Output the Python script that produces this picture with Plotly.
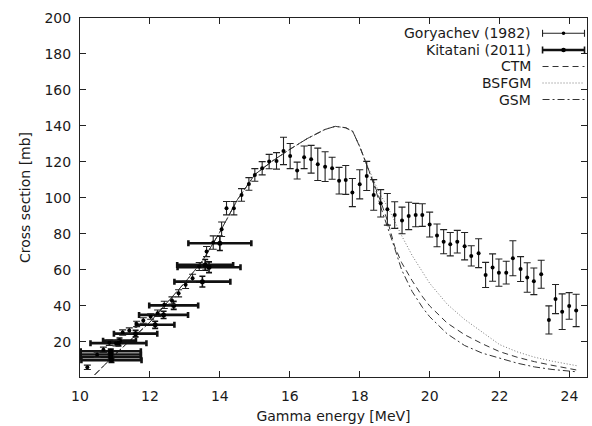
import plotly.graph_objects as go

# ---------------- data ----------------
# Goryachev (1982): energy [MeV], cross section [mb], y-error [mb]
gor_E = [10.21, 10.49, 10.67, 10.84, 11.03, 11.22, 11.41, 11.62, 11.81, 12.02,
         12.22, 12.41, 12.63, 12.82, 13.02, 13.22, 13.41, 13.62, 13.81, 14.05,
         14.19, 14.40, 14.62, 14.83, 15.00, 15.21, 15.41, 15.62, 15.82, 16.01,
         16.21, 16.41, 16.61, 16.80, 17.01, 17.21, 17.41, 17.60, 17.79, 18.00,
         18.20, 18.40, 18.60, 18.79, 19.00, 19.21, 19.40, 19.60, 19.79, 20.00,
         20.21, 20.40, 20.59, 20.79, 21.00, 21.19, 21.40, 21.60, 21.80, 21.98,
         22.19, 22.38, 22.60, 22.79, 22.98, 23.19, 23.41, 23.60, 23.79, 23.99,
         24.19]
gor_S = [5.9, 12.8, 15.6, 19.6, 19.3, 25.2, 26.3, 30.0, 31.9, 34.1,
         35.9, 40.6, 43.0, 47.0, 51.7, 55.4, 61.9, 70.2, 75.2, 82.6,
         94.3, 94.3, 101.7, 107.8, 112.8, 116.5, 120.2, 120.6, 126.1, 123.3,
         115.2, 122.6, 121.5, 118.7, 117.4, 116.5, 109.6, 110.0, 103.0, 107.6,
         112.2, 101.7, 97.0, 93.7, 90.5, 87.5, 90.0, 90.5, 90.5, 85.2,
         79.2, 75.7, 74.3, 75.7, 73.2, 67.8, 69.3, 57.2, 61.3, 58.5,
         58.5, 66.5, 60.5, 55.8, 53.7, 57.6, 32.2, 43.8, 36.8, 40.0,
         37.5]
gor_dS = [1.2, 1.5, 1.5, 1.5, 1.5, 1.5, 1.5, 1.5, 1.5, 1.5,
          1.8, 2.0, 2.0, 2.0, 2.0, 2.2, 2.2, 2.8, 3.7, 4.0,
          3.7, 3.7, 3.5, 3.5, 3.5, 3.7, 4.0, 4.6, 7.6, 7.0,
          4.7, 6.3, 7.7, 9.0, 8.3, 6.1, 7.4, 8.0, 7.8, 8.1,
          8.1, 8.5, 7.6, 8.8, 7.4, 7.4, 7.6, 6.5, 6.3, 6.9,
          6.3, 6.7, 6.5, 6.3, 7.6, 5.6, 8.0, 7.0, 7.6, 7.6,
          6.3, 9.7, 6.9, 8.2, 7.4, 7.8, 7.8, 8.1, 9.9, 7.4,
          9.0]

# Kitatani (2011): energy, cross section, x-error, y-error
kit_E = [10.88, 10.88, 10.88, 10.90, 11.10, 11.13, 11.59, 12.15, 12.39, 12.68,
         13.50, 13.58, 13.69, 14.00]
kit_S = [14.8, 13.0, 11.5, 9.8, 19.3, 20.7, 24.6, 29.5, 35.0, 40.3,
         53.5, 62.8, 61.5, 74.8]
kit_dE = [0.86, 0.86, 0.86, 0.86, 0.80, 0.47, 0.62, 0.55, 0.70, 0.70,
          0.80, 0.80, 0.90, 0.90]
kit_dS = [1.2, 1.2, 1.2, 1.2, 1.5, 1.5, 1.8, 2.0, 2.0, 2.2,
          3.0, 3.0, 3.0, 4.0]

# model curves (common part below ~18.4 MeV)
mod_E = [10.42, 11.0, 11.5, 12.0, 12.5, 13.0, 13.5, 14.0, 14.5, 15.0,
         15.5, 16.0, 16.5, 17.0, 17.3, 17.6, 17.8, 18.0, 18.15, 18.3,
         18.45, 18.6, 18.8, 19.0, 19.2, 19.5, 19.8, 20.0, 20.5, 21.0,
         21.5, 22.0, 22.5, 23.0, 23.5, 24.2]
ctm_S = [1.7, 13.0, 22.0, 31.0, 42.0, 53.0, 65.0, 81.0, 99.0, 113.0,
         120.5, 127.0, 133.0, 138.0, 139.8, 139.0, 137.0, 128.5, 121.0, 113.5,
         106.0, 98.0, 87.0, 73.0, 64.0, 54.0, 45.0, 40.0, 30.5, 24.0,
         19.0, 14.6, 11.5, 9.0, 7.0, 4.4]
bsfgm_S = [1.7, 13.0, 22.0, 31.0, 42.0, 53.0, 65.0, 81.0, 99.0, 113.0,
           120.5, 127.0, 133.0, 138.0, 139.8, 139.0, 137.0, 128.5, 121.0, 114.0,
           107.5, 101.5, 95.0, 87.0, 79.0, 68.0, 58.5, 52.6, 41.0, 32.5,
           25.5, 18.5, 14.5, 11.5, 9.3, 6.8]
gsm_S = [1.7, 13.0, 22.0, 31.0, 42.0, 53.0, 65.0, 81.0, 99.0, 113.0,
         120.5, 127.0, 133.0, 138.0, 139.8, 139.0, 137.0, 128.5, 121.0, 113.0,
         105.0, 95.0, 84.0, 72.0, 60.0, 48.0, 39.0, 34.0, 24.5, 18.0,
         13.8, 10.9, 8.2, 6.1, 4.7, 3.4]

x_ticks = [10, 12, 14, 16, 18, 20, 22, 24]
y_ticks = [20, 40, 60, 80, 100, 120, 140, 160, 180, 200]

legend_labels = ["Goryachev (1982)", "Kitatani (2011)", "CTM", "BSFGM", "GSM"]

# ---------------- figure ----------------
W, H = 592, 426
ML, MR, MT, MB = 80, 4.5, 18, 49
FONT = "DejaVu Sans"
FS = 14
INK = "#1a1a1a"

fig = go.Figure()

fig.add_trace(go.Scatter(x=mod_E, y=ctm_S, mode="lines", name="CTM",
                         line=dict(color="#333333", width=1, dash="6px,4px"),
                         showlegend=False, hoverinfo="skip"))
fig.add_trace(go.Scatter(x=mod_E, y=bsfgm_S, mode="lines", name="BSFGM",
                         line=dict(color="#777777", width=1, dash="1px,2px"),
                         showlegend=False, hoverinfo="skip"))
fig.add_trace(go.Scatter(x=mod_E, y=gsm_S, mode="lines", name="GSM",
                         line=dict(color="#333333", width=1, dash="7px,3px,2px,3px"),
                         showlegend=False, hoverinfo="skip"))

fig.add_trace(go.Scatter(x=kit_E, y=kit_S, mode="markers", name="Kitatani (2011)",
                         marker=dict(color="black", size=5),
                         error_x=dict(type="data", array=kit_dE, visible=True,
                                      color="#111111", thickness=2.6, width=3),
                         error_y=dict(type="data", array=kit_dS, visible=True,
                                      color="#111111", thickness=1.6, width=3),
                         showlegend=False))

fig.add_trace(go.Scatter(x=gor_E, y=gor_S, mode="markers", name="Goryachev (1982)",
                         marker=dict(color="black", size=4),
                         error_y=dict(type="data", array=gor_dS, visible=True,
                                      color="#222222", thickness=1.1, width=3.5),
                         showlegend=False))

# ---------------- manual legend (gnuplot style: text left, sample right) ----------------
pw = W - ML - MR
ph = H - MT - MB


def px2paper(xp, yp):
    return (xp - ML) / pw, 1 - (yp - MT) / ph


rows_y = [33.3, 50.0, 66.5, 83.0, 99.5]
text_right = 533
s0, s1 = 543, 585
shapes = []
annotations = []
for lab, yy in zip(legend_labels, rows_y):
    tx, ty = px2paper(text_right, yy)
    annotations.append(dict(x=tx, y=ty, xref="paper", yref="paper", text=lab,
                            showarrow=False, xanchor="right", yanchor="middle",
                            font=dict(family=FONT, size=FS, color=INK)))


def seg(x0, y0, x1, y1, **line):
    a = px2paper(x0, y0)
    b = px2paper(x1, y1)
    shapes.append(dict(type="line", xref="paper", yref="paper",
                       x0=a[0], y0=a[1], x1=b[0], y1=b[1], line=line))


# Goryachev sample
y = rows_y[0]
seg(s0, y, s1, y, color="#222222", width=1.1)
seg(s0, y - 3.5, s0, y + 3.5, color="#222222", width=1.1)
seg(s1, y - 3.5, s1, y + 3.5, color="#222222", width=1.1)
# Kitatani sample
y = rows_y[1]
seg(s0, y, s1, y, color="#111111", width=2.6)
seg(s0, y - 3.5, s0, y + 3.5, color="#111111", width=1.6)
seg(s1, y - 3.5, s1, y + 3.5, color="#111111", width=1.6)
# line samples
seg(s0, rows_y[2], s1, rows_y[2], color="#333333", width=1, dash="6px,4px")
seg(s0, rows_y[3], s1, rows_y[3], color="#777777", width=1, dash="1px,2px")
seg(s0, rows_y[4], s1, rows_y[4], color="#333333", width=1, dash="7px,3px,2px,3px")

for yy, sz in ((rows_y[0], 3.6), (rows_y[1], 4.6)):
    cx, cy = px2paper((s0 + s1) / 2, yy)
    r_x = sz / 2 / pw
    r_y = sz / 2 / ph
    shapes.append(dict(type="circle", xref="paper", yref="paper",
                       x0=cx - r_x, x1=cx + r_x, y0=cy - r_y, y1=cy + r_y,
                       fillcolor="black", line=dict(width=0)))

axis_common = dict(showline=True, linecolor="#222222", linewidth=1, mirror="ticks",
                   ticks="inside", ticklen=6, tickwidth=1, tickcolor="#222222",
                   showgrid=False, zeroline=False,
                   tickfont=dict(family=FONT, size=FS, color=INK))

fig.update_layout(
    width=W, height=H,
    margin=dict(l=ML, r=MR, t=MT, b=MB, pad=0, autoexpand=False),
    paper_bgcolor="white", plot_bgcolor="white",
    showlegend=False,
    font=dict(family=FONT, size=FS, color=INK),
    xaxis=dict(range=[10, 24.5], tickvals=x_ticks, ticklabelstandoff=6,
               automargin=False,
               title=dict(text="Gamma energy [MeV]", standoff=8,
                          font=dict(family=FONT, size=FS, color=INK)),
               **axis_common),
    yaxis=dict(range=[0.5, 200], tickvals=y_ticks, ticklabelstandoff=5,
               automargin=False,
               title=dict(text="Cross section [mb]", standoff=10,
                          font=dict(family=FONT, size=FS, color=INK)),
               **axis_common),
    shapes=shapes,
    annotations=annotations,
)

fig.write_html("out.html",
               config={"displayModeBar": False, "staticPlot": True},
               post_script="document.body.style.margin='0';document.body.style.overflow='hidden';")
